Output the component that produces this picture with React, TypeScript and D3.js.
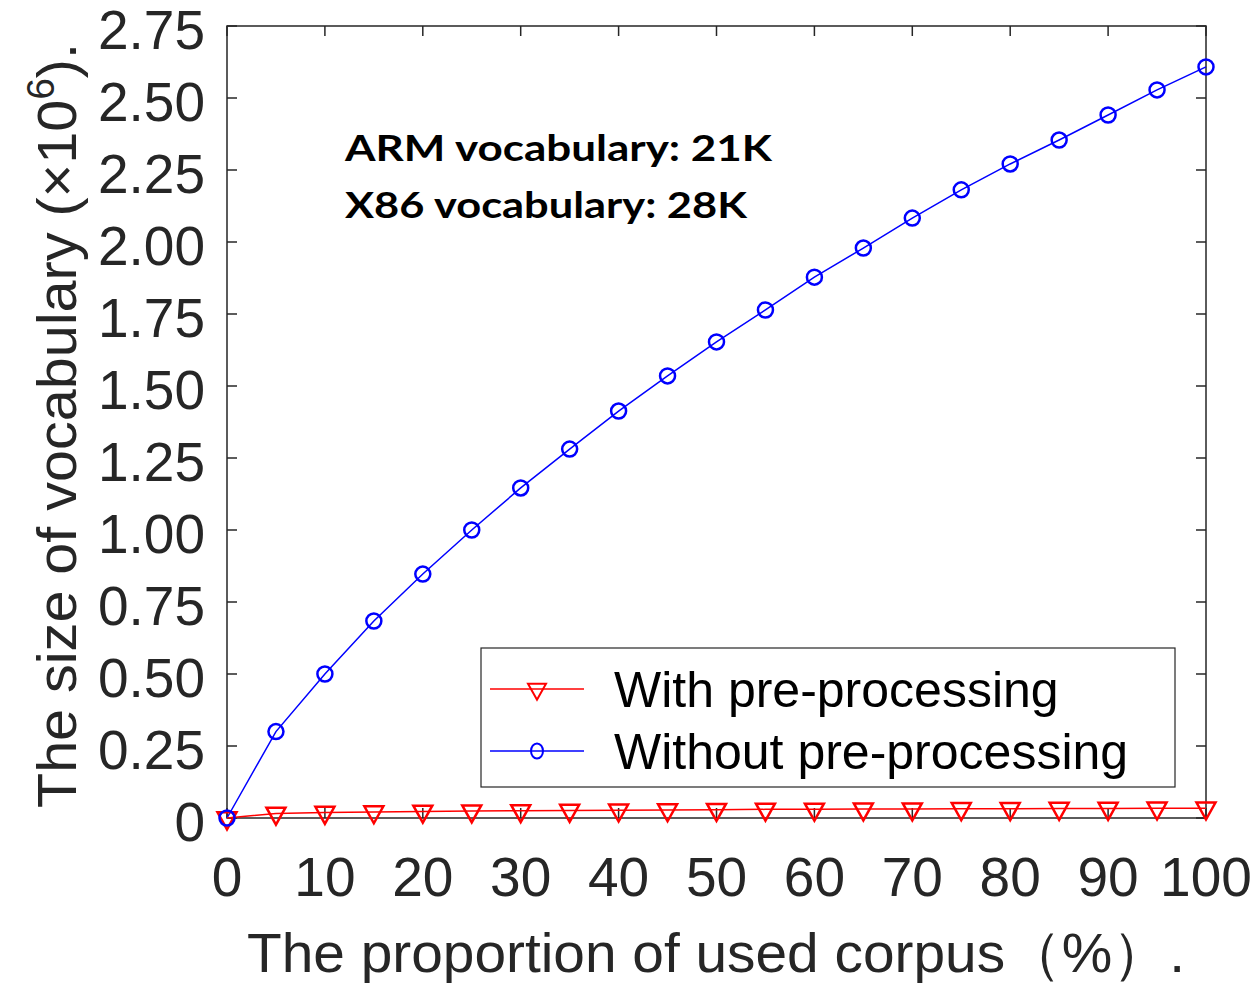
import { useRef, useEffect } from "react";
import * as d3 from "d3";

const corpusPct = [0, 5, 10, 15, 20, 25, 30, 35, 40, 45, 50, 55, 60, 65, 70, 75, 80, 85, 90, 95, 100];
const withPre = [0, 0.016, 0.019, 0.021, 0.023, 0.024, 0.025, 0.026, 0.027, 0.028, 0.029, 0.03, 0.03, 0.031, 0.031, 0.032, 0.032, 0.033, 0.033, 0.034, 0.034];
const withoutPre = [0, 0.3, 0.5, 0.684, 0.847, 1.0, 1.146, 1.281, 1.413, 1.535, 1.653, 1.764, 1.878, 1.979, 2.083, 2.181, 2.271, 2.354, 2.441, 2.528, 2.608];
const yTicks = [0, 0.25, 0.5, 0.75, 1.0, 1.25, 1.5, 1.75, 2.0, 2.25, 2.5, 2.75];
const xTicks = [0, 10, 20, 30, 40, 50, 60, 70, 80, 90, 100];
const seriesNames = ["With pre-processing", "Without pre-processing"];
const notes = ["ARM vocabulary: 21K", "X86 vocabulary: 28K"];

const W = 1257;
const H = 983;
const axisColor = "#262626";
const font = "'Liberation Sans', Arial, Helvetica, sans-serif";

// downward triangle, centroid at (cx, cy)
const triPath = (cx: number, cy: number, w = 19, h = 17) =>
  `M${cx - w / 2},${cy - h / 3}L${cx + w / 2},${cy - h / 3}L${cx},${cy + (2 * h) / 3}Z`;

const App = () => {
  const svgRef = useRef<SVGSVGElement>(null);

  useEffect(() => {
    const svg = d3.select(svgRef.current);
    svg.selectAll("*").remove();

    const left = 227, right = 1206, top = 26, bottom = 818;
    const x = d3.scaleLinear().domain([0, 100]).range([left, right]);
    const y = d3.scaleLinear().domain([0, 2.75]).range([bottom, top]);
    const tick = 10;

    const g = svg.append("g");

    // box
    g.append("rect")
      .attr("x", left).attr("y", top)
      .attr("width", right - left).attr("height", bottom - top)
      .attr("fill", "none").attr("stroke", axisColor).attr("stroke-width", 1.5);

    // ticks inside on all four sides
    yTicks.forEach((t) => {
      g.append("line").attr("x1", left).attr("x2", left + tick)
        .attr("y1", y(t)).attr("y2", y(t)).attr("stroke", axisColor).attr("stroke-width", 1.5);
      g.append("line").attr("x1", right).attr("x2", right - tick)
        .attr("y1", y(t)).attr("y2", y(t)).attr("stroke", axisColor).attr("stroke-width", 1.5);
      g.append("text")
        .attr("x", 205).attr("y", y(t) + 23)
        .attr("text-anchor", "end")
        .attr("font-family", font).attr("font-size", 55)
        .attr("fill", axisColor)
        .text(t === 0 ? "0" : d3.format(".2f")(t));
    });
    xTicks.forEach((t) => {
      g.append("line").attr("x1", x(t)).attr("x2", x(t))
        .attr("y1", bottom).attr("y2", bottom - tick).attr("stroke", axisColor).attr("stroke-width", 1.5);
      g.append("line").attr("x1", x(t)).attr("x2", x(t))
        .attr("y1", top).attr("y2", top + tick).attr("stroke", axisColor).attr("stroke-width", 1.5);
      g.append("text")
        .attr("x", x(t)).attr("y", 896)
        .attr("text-anchor", "middle")
        .attr("font-family", font).attr("font-size", 55)
        .attr("fill", axisColor)
        .text(String(t));
    });

    // axis labels
    g.append("text")
      .attr("x", 247).attr("y", 972)
      .attr("textLength", 938).attr("lengthAdjust", "spacingAndGlyphs")
      .attr("font-family", font).attr("font-size", 56)
      .attr("fill", axisColor)
      .text("The proportion of used corpus\uff08%\uff09.");

    const yl = g.append("text")
      .attr("transform", "translate(76,808) rotate(-90)")
      .attr("font-family", font).attr("font-size", 56)
      .attr("textLength", 765).attr("lengthAdjust", "spacingAndGlyphs")
      .attr("fill", axisColor);
    yl.append("tspan").text("The size of vocabulary (\u00d710");
    yl.append("tspan").attr("dy", -22).attr("font-size", 38).text("6");
    yl.append("tspan").attr("dy", 22).text(").");

    // lines
    const line = d3.line<number>().x((_, i) => x(corpusPct[i])).y((d) => y(d));

    g.append("path").datum(withoutPre).attr("d", line)
      .attr("fill", "none").attr("stroke", "#0000ff").attr("stroke-width", 1.5);
    g.append("path").datum(withPre).attr("d", line)
      .attr("fill", "none").attr("stroke", "#ff0000").attr("stroke-width", 1.5);

    g.selectAll("path.tri").data(withPre).join("path")
      .attr("class", "tri")
      .attr("d", (d, i) => triPath(x(corpusPct[i]), y(d)))
      .attr("fill", "none").attr("stroke", "#ff0000").attr("stroke-width", 2.5);

    g.selectAll("circle.pt").data(withoutPre).join("circle")
      .attr("class", "pt")
      .attr("cx", (_, i) => x(corpusPct[i])).attr("cy", (d) => y(d))
      .attr("r", 7.5)
      .attr("fill", "none").attr("stroke", "#0000ff").attr("stroke-width", 2.5);

    // annotation
    notes.forEach((n, i) => {
      g.append("text")
        .attr("x", 345).attr("y", 161 + i * 57)
        .attr("font-family", "Lato, 'Open Sans', sans-serif")
        .attr("font-weight", "bold").attr("font-size", 36)
        .attr("textLength", i === 0 ? 427 : 402).attr("lengthAdjust", "spacingAndGlyphs")
        .attr("fill", "#000")
        .text(n);
    });

    // legend
    const lg = g.append("g");
    lg.append("rect")
      .attr("x", 481).attr("y", 648).attr("width", 694).attr("height", 139)
      .attr("fill", "#fff").attr("stroke", axisColor).attr("stroke-width", 1.2);
    const rows = [689, 751];
    const colors = ["#ff0000", "#0000ff"];
    seriesNames.forEach((name, i) => {
      const cy = rows[i];
      lg.append("line").attr("x1", 490).attr("x2", 584).attr("y1", cy).attr("y2", cy)
        .attr("stroke", colors[i]).attr("stroke-width", 1.5);
      if (i === 0) {
        lg.append("path").attr("d", triPath(537, cy, 18, 16))
          .attr("fill", "none").attr("stroke", colors[i]).attr("stroke-width", 2);
      } else {
        lg.append("ellipse").attr("cx", 537).attr("cy", cy).attr("rx", 6).attr("ry", 7.5)
          .attr("fill", "none").attr("stroke", colors[i]).attr("stroke-width", 2);
      }
      lg.append("text")
        .attr("x", 614).attr("y", cy + 18)
        .attr("font-family", font).attr("font-size", 50)
        .attr("fill", "#000")
        .text(name);
    });
  }, []);

  return (
    <div style={{ width: W, height: H }}>
      <svg ref={svgRef} width={W} height={H} style={{ display: "block", position: "absolute", left: 0, top: 0, background: "#fff" }} />
    </div>
  );
};

export default App;
